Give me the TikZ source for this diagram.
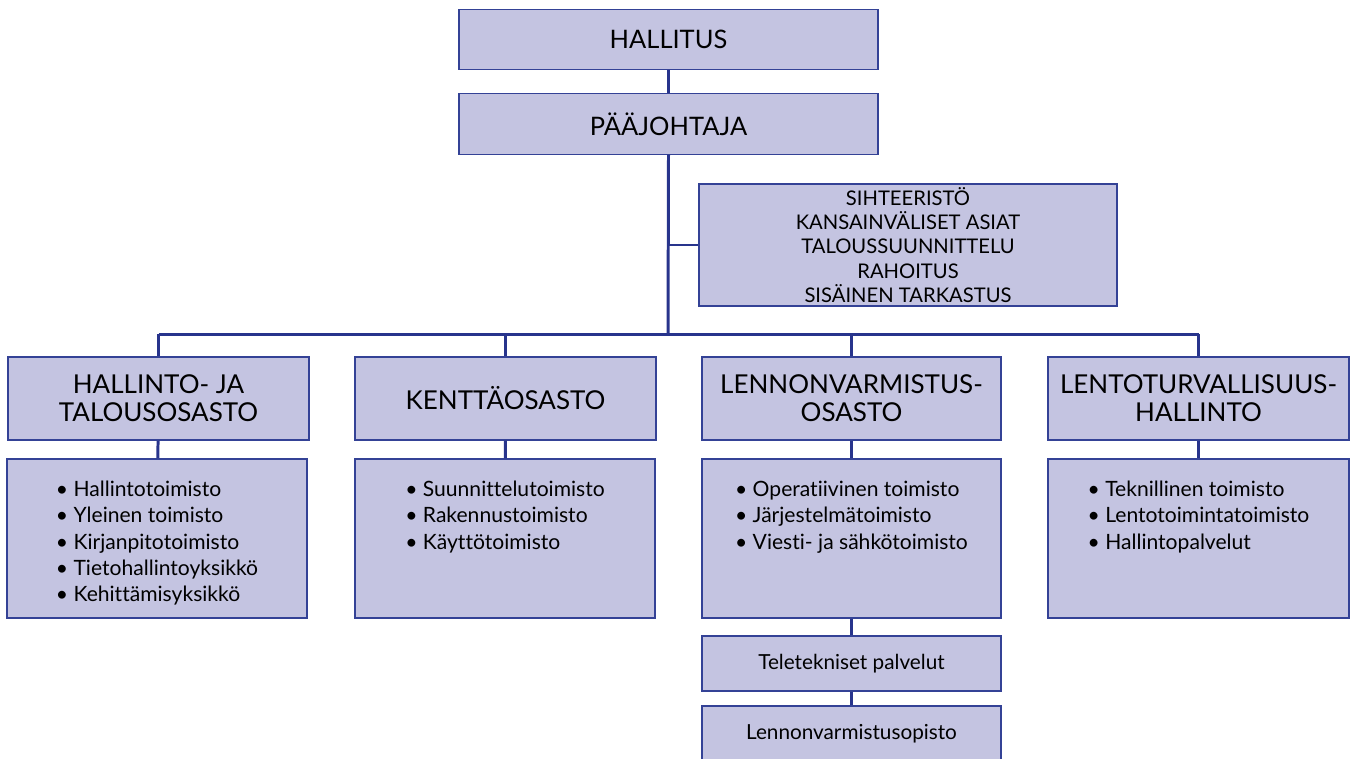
\documentclass[tikz,border=0pt]{standalone}
\usepackage{fontspec}
\setmainfont{Lato}[Ligatures=NoCommon]
\usepackage{tikz}
\usetikzlibrary{positioning,calc}

\definecolor{boxfill}{RGB}{196,196,225}
\definecolor{boxline}{RGB}{52,66,150}
\definecolor{linkline}{RGB}{40,52,140}

\newcommand{\itemlist}[1]{\parbox[c][3.18cm][t]{5.6cm}{\vspace*{0.38cm}\centering
  \renewcommand{\arraystretch}{1}\begin{tabular}[t]{@{}l@{}}#1\end{tabular}}}

\begin{document}
\begin{tikzpicture}[
    x=0.02cm, y=-0.02cm,
    unit/.style={rectangle, draw=boxline, fill=boxfill, line width=0.8pt, inner sep=0pt, align=center},
    topbox/.style={unit, minimum width=8.38cm, minimum height=1.21cm, font=\fontsize{14.5}{17}\selectfont},
    deptbox/.style={unit, minimum width=6.02cm, minimum height=1.66cm, font=\fontsize{14.8}{16}\selectfont},
    subbox/.style={unit, minimum width=6cm, minimum height=3.18cm, font=\fontsize{12}{15}\selectfont},
    smallbox/.style={unit, minimum width=5.98cm, minimum height=1.1cm, font=\fontsize{11.8}{13}\selectfont},
    link/.style={draw=linkline, line width=1.7pt}
]
    \useasboundingbox (0,0) rectangle (1359,758);

    % top of the chart
    \node[topbox] (hallitus) at (668.5,39.5) {HALLITUS};
    \node[topbox] (paajohtaja) at (668.5,124) {PÄÄJOHTAJA};
    \node[unit, minimum width=8.36cm, minimum height=2.44cm, font=\fontsize{11.5}{13.9}\selectfont]
        (sihteeristo) at (908,245) {SIHTEERISTÖ\\KANSAINVÄLISET ASIAT\\TALOUSSUUNNITTELU\\RAHOITUS\\SISÄINEN TARKASTUS};

    % departments
    \node[deptbox] (hallinto) at (158.5,398.5) {HALLINTO- JA\\TALOUSOSASTO};
    \node[deptbox] (kentta) at (505.5,398.5) {KENTTÄOSASTO};
    \node[deptbox, minimum width=5.98cm] (lennon) at (851.5,398.5) {LENNONVARMISTUS-\\OSASTO};
    \node[deptbox] (lentotur) at (1198.5,398.5) {LENTOTURVALLISUUS-\\HALLINTO};

    % offices
    \node[subbox] (hallintolist) at (157,538.5) {\itemlist{\textbullet\ Hallintotoimisto\\\textbullet\ Yleinen toimisto\\\textbullet\ Kirjanpitotoimisto\\\textbullet\ Tietohallintoyksikkö\\\textbullet\ Kehittämisyksikkö}};
    \node[subbox] (kentalist) at (505,538.5) {\itemlist{\textbullet\ Suunnittelutoimisto\\\textbullet\ Rakennustoimisto\\\textbullet\ Käyttötoimisto}};
    \node[subbox, minimum width=5.98cm] (lennonlist) at (851.5,538.5) {\itemlist{\textbullet\ Operatiivinen toimisto\\\textbullet\ Järjestelmätoimisto\\\textbullet\ Viesti- ja sähkötoimisto}};
    \node[subbox, minimum width=6.02cm] (lentoturlist) at (1198.5,538.5) {\itemlist{\textbullet\ Teknillinen toimisto\\\textbullet\ Lentotoimintatoimisto\\\textbullet\ Hallintopalvelut}};

    \node[smallbox] (tele) at (851.5,663.5) {Teletekniset palvelut};
    \node[smallbox] (opisto) at (851.5,733.5) {Lennonvarmistusopisto};

    % connectors
    \coordinate (bus) at (668,334);
    \draw[link] (hallitus) -- (paajohtaja);
    \draw[link] (paajohtaja.south) -- (bus);
    \draw[link] (paajohtaja.south |- sihteeristo.west) -- (sihteeristo.west);
    \draw[link] (hallinto.north |- bus) -- (lentotur.north |- bus);
    \foreach \d/\s in {hallinto/hallintolist, kentta/kentalist, lennon/lennonlist, lentotur/lentoturlist} {
        \draw[link] (\d.north |- bus) -- (\d.north);
        \draw[link] (\d) -- (\s);
    }
    \draw[link] (lennonlist) -- (tele);
    \draw[link] (tele) -- (opisto);
\end{tikzpicture}
\end{document}
